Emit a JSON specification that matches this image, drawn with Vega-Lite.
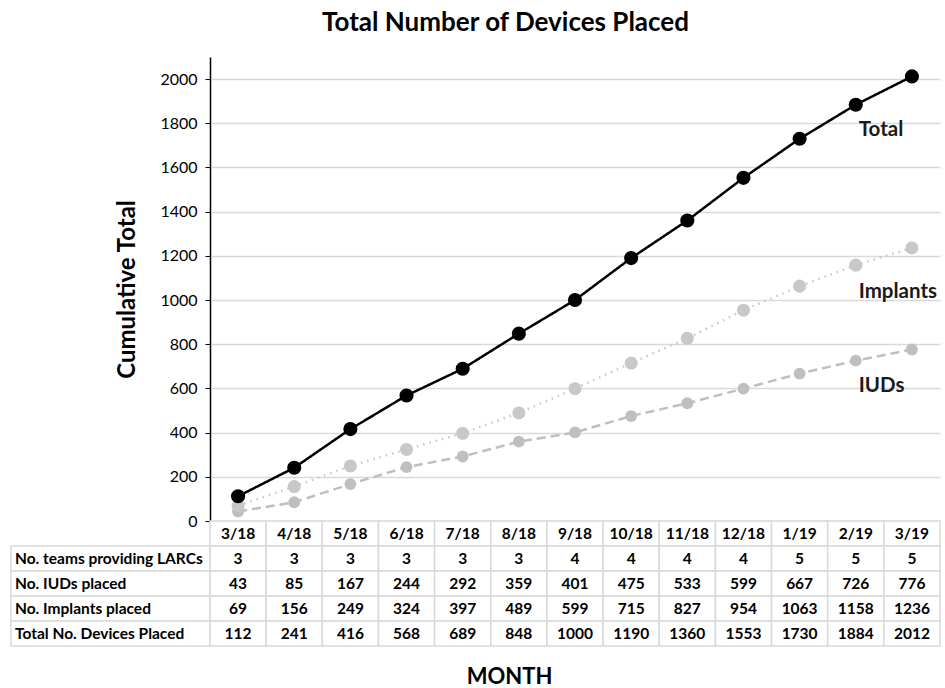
{
  "$schema": "https://vega.github.io/schema/vega-lite/v6.json",
  "padding": {"left": 10, "top": 10, "right": 3, "bottom": 0},
  "background": "white",
  "config": {"font": "Lato", "view": {"stroke": null}},
  "title": {"text": "Total Number of Devices Placed", "fontSize": 26, "fontWeight": "bold", "color": "black", "anchor": "middle", "dx": 30, "offset": 21},
  "datasets": {
    "main": [
      {"month": "3/18", "teams": 3, "iuds": 43, "implants": 69, "total": 112},
      {"month": "4/18", "teams": 3, "iuds": 85, "implants": 156, "total": 241},
      {"month": "5/18", "teams": 3, "iuds": 167, "implants": 249, "total": 416},
      {"month": "6/18", "teams": 3, "iuds": 244, "implants": 324, "total": 568},
      {"month": "7/18", "teams": 3, "iuds": 292, "implants": 397, "total": 689},
      {"month": "8/18", "teams": 3, "iuds": 359, "implants": 489, "total": 848},
      {"month": "9/18", "teams": 4, "iuds": 401, "implants": 599, "total": 1000},
      {"month": "10/18", "teams": 4, "iuds": 475, "implants": 715, "total": 1190},
      {"month": "11/18", "teams": 4, "iuds": 533, "implants": 827, "total": 1360},
      {"month": "12/18", "teams": 4, "iuds": 599, "implants": 954, "total": 1553},
      {"month": "1/19", "teams": 5, "iuds": 667, "implants": 1063, "total": 1730},
      {"month": "2/19", "teams": 5, "iuds": 726, "implants": 1158, "total": 1884},
      {"month": "3/19", "teams": 5, "iuds": 776, "implants": 1236, "total": 2012}
    ],
    "rows": [
      {"col": "label", "key": "teams", "label": "No. teams providing LARCs"},
      {"col": "label", "key": "iuds", "label": "No. IUDs placed"},
      {"col": "label", "key": "implants", "label": "No. Implants placed"},
      {"col": "label", "key": "total", "label": "Total No. Devices Placed"}
    ],
    "notes": [
      {"month": "2/19", "count": 1770, "note": "Total"},
      {"month": "2/19", "count": 1036, "note": "Implants"},
      {"month": "2/19", "count": 611, "note": "IUDs"}
    ]
  },
  "columns": 2,
  "spacing": 0,
  "bounds": "flush",
  "concat": [
    {
      "width": 199,
      "height": 464,
      "data": {"values": []},
      "mark": "text",
      "encoding": {}
    },
    {
      "width": 730,
      "height": 464,
      "layer": [
        {
          "data": {"name": "main"},
          "transform": [{"fold": ["total", "implants", "iuds"], "as": ["series", "count"]}],
          "mark": {"type": "line", "strokeWidth": 2.5},
          "encoding": {
            "x": {"field": "month", "type": "ordinal", "scale": {"type": "point", "padding": 0.5, "domain": ["3/18","4/18","5/18","6/18","7/18","8/18","9/18","10/18","11/18","12/18","1/19","2/19","3/19"]}, "axis": null},
            "y": {
              "field": "count", "type": "quantitative",
              "scale": {"domain": [0, 2100], "nice": false},
              "title": "Cumulative Total",
              "axis": {
                "values": [0,100,200,300,400,500,600,700,800,900,1000,1100,1200,1300,1400,1500,1600,1700,1800,1900,2000,2100],
                "labelExpr": "datum.value % 200 == 0 && datum.value <= 2000 ? datum.label : ''",
                "format": "d",
                "grid": true,
                "gridColor": {"condition": {"test": "datum.value % 200 == 0", "value": "#d9d9d9"}, "value": "#ededed"},
                "gridWidth": 1.5,
                "domainColor": "black",
                "domainWidth": 1.5,
                "tickColor": "black",
                "tickSize": 5,
                "labelFontSize": 16,
                "labelColor": "black",
                "labelPadding": 8,
                "titleFontSize": 24,
                "titleFontWeight": "bold",
                "titleColor": "black",
                "titlePadding": 20
              }
            },
            "color": {"field": "series", "type": "nominal", "scale": {"domain": ["total","implants","iuds"], "range": ["#000000","#c8c8c8","#bfbfbf"]}, "legend": null},
            "strokeDash": {"field": "series", "type": "nominal", "scale": {"domain": ["total","implants","iuds"], "range": [[1,0],[1.5,5],[9,5]]}, "legend": null}
          }
        },
        {
          "data": {"name": "main"},
          "transform": [{"fold": ["iuds", "implants", "total"], "as": ["series", "count"]}],
          "mark": {"type": "point", "filled": true, "opacity": 1},
          "encoding": {
            "x": {"field": "month", "type": "ordinal"},
            "y": {"field": "count", "type": "quantitative"},
            "color": {"field": "series", "type": "nominal", "legend": null},
            "size": {"field": "series", "type": "nominal", "scale": {"domain": ["total","implants","iuds"], "range": [200, 140, 140]}, "legend": null}
          }
        },
        {
          "data": {"name": "notes"},
          "mark": {"type": "text", "align": "left", "baseline": "middle", "dx": 3, "fontSize": 20.5, "fontWeight": "bold", "color": "#1a1a1a"},
          "encoding": {
            "x": {"field": "month", "type": "ordinal"},
            "y": {"field": "count", "type": "quantitative"},
            "text": {"field": "note"}
          }
        }
      ]
    },
    {
      "width": 199,
      "height": 125,
      "data": {"name": "rows"},
      "encoding": {
        "y": {"field": "key", "type": "nominal", "scale": {"domain": ["month","teams","iuds","implants","total"], "paddingInner": 0, "paddingOuter": 0}, "axis": null}
      },
      "layer": [
        {
          "mark": {"type": "rect", "fill": "white", "stroke": "#d9d9d9", "strokeWidth": 1.5},
          "encoding": {"x": {"field": "col", "type": "nominal", "scale": {"paddingInner": 0, "paddingOuter": 0}, "axis": null}}
        },
        {
          "mark": {"type": "text", "align": "left", "baseline": "middle", "dx": 4, "fontSize": 15.5, "fontWeight": "bold", "color": "black"},
          "encoding": {
            "x": {"field": "col", "type": "nominal", "bandPosition": 0},
            "text": {"field": "label"}
          }
        }
      ]
    },
    {
      "width": 730,
      "height": 125,
      "data": {"name": "main"},
      "transform": [{"fold": ["month", "teams", "iuds", "implants", "total"], "as": ["key", "value"]}],
      "encoding": {
        "x": {"field": "month", "type": "ordinal", "scale": {"type": "band", "paddingInner": 0, "paddingOuter": 0, "domain": ["3/18","4/18","5/18","6/18","7/18","8/18","9/18","10/18","11/18","12/18","1/19","2/19","3/19"]},
          "axis": {"title": "MONTH", "labels": false, "ticks": false, "domain": false, "titleFontSize": 22, "titleFontWeight": "bold", "titleColor": "black", "titlePadding": 20, "titleX": 299}},
        "y": {"field": "key", "type": "nominal", "scale": {"domain": ["month","teams","iuds","implants","total"], "paddingInner": 0, "paddingOuter": 0}, "axis": null}
      },
      "layer": [
        {"mark": {"type": "rect", "fill": "white", "stroke": "#d9d9d9", "strokeWidth": 1.5}},
        {
          "mark": {"type": "text", "baseline": "middle", "fontSize": 15.5, "fontWeight": "bold", "color": "black"},
          "encoding": {"text": {"field": "value", "type": "nominal"}}
        }
      ]
    }
  ]
}
